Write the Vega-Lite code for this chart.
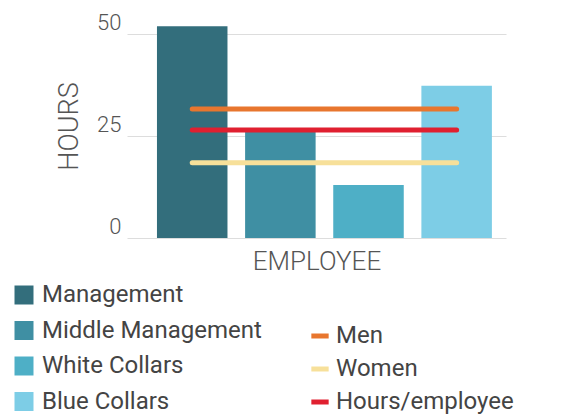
{
  "$schema": "https://vega.github.io/schema/vega-lite/v6.json",
  "width": 379,
  "height": 224,
  "autosize": {"type": "none"},
  "padding": {"left": 127, "top": 14, "right": 72, "bottom": 176},
  "background": "white",
  "config": {
    "view": {"stroke": null},
    "font": "Roboto",
    "legend": {"padding": 0}
  },
  "datasets": {
    "bars": [
      {"category": "Management", "hours": 52.0},
      {"category": "Middle Management", "hours": 26.0},
      {"category": "White Collars", "hours": 13.0},
      {"category": "Blue Collars", "hours": 37.4}
    ],
    "lines": [
      {"category": "Management", "series": "Men", "hours": 31.7},
      {"category": "Middle Management", "series": "Men", "hours": 31.7},
      {"category": "White Collars", "series": "Men", "hours": 31.7},
      {"category": "Blue Collars", "series": "Men", "hours": 31.7},
      {"category": "Management", "series": "Women", "hours": 18.5},
      {"category": "Middle Management", "series": "Women", "hours": 18.5},
      {"category": "White Collars", "series": "Women", "hours": 18.5},
      {"category": "Blue Collars", "series": "Women", "hours": 18.5},
      {"category": "Management", "series": "Hours/employee", "hours": 26.5},
      {"category": "Middle Management", "series": "Hours/employee", "hours": 26.5},
      {"category": "White Collars", "series": "Hours/employee", "hours": 26.5},
      {"category": "Blue Collars", "series": "Hours/employee", "hours": 26.5}
    ]
  },
  "encoding": {
    "x": {
      "field": "category",
      "type": "nominal",
      "sort": ["Management", "Middle Management", "White Collars", "Blue Collars"],
      "scale": {"paddingInner": 0.2, "paddingOuter": 0.25, "align": 0.68},
      "axis": {
        "title": "EMPLOYEE",
        "labels": false,
        "ticks": false,
        "domain": false,
        "titleFont": "Roboto",
        "titleFontWeight": 300,
        "titleFontSize": 26,
        "titleColor": "#555555",
        "titlePadding": 10
      }
    },
    "y": {
      "field": "hours",
      "type": "quantitative",
      "scale": {"domain": [0, 55], "nice": false},
      "axis": {
        "title": "HOURS",
        "values": [0, 25, 50],
        "ticks": false,
        "domain": false,
        "grid": true,
        "gridColor": "#dddddd",
        "labelFont": "Roboto",
        "labelFontWeight": 300,
        "labelFontSize": 22,
        "labelColor": "#555555",
        "labelPadding": 6,
        "labelBaseline": "bottom",
        "titleFont": "Roboto",
        "titleFontWeight": 300,
        "titleFontSize": 27,
        "titleColor": "#555555",
        "titlePadding": 13
      }
    }
  },
  "layer": [
    {
      "data": {"name": "bars"},
      "mark": {"type": "bar"},
      "encoding": {
        "fill": {
          "field": "category",
          "type": "nominal",
          "sort": ["Management", "Middle Management", "White Collars", "Blue Collars"],
          "scale": {
            "domain": ["Management", "Middle Management", "White Collars", "Blue Collars"],
            "range": ["#336e7c", "#3f8fa3", "#4eafc6", "#7dcde6"]
          },
          "legend": {
            "title": null,
            "orient": "none",
            "legendX": -115,
            "legendY": 269,
            "symbolType": "square",
            "symbolSize": 361,
            "symbolStrokeWidth": 0,
            "labelFont": "Roboto",
            "labelFontSize": 24,
            "labelColor": "#444444",
            "labelOffset": 6,
            "rowPadding": 11.5,
            "labelLimit": 400
          }
        }
      }
    },
    {
      "data": {"name": "lines"},
      "mark": {"type": "line", "strokeWidth": 5, "strokeCap": "round"},
      "encoding": {
        "stroke": {
          "field": "series",
          "type": "nominal",
          "scale": {
            "domain": ["Men", "Women", "Hours/employee"],
            "range": ["#e8762e", "#f7e09a", "#e02030"]
          },
          "legend": {
            "title": null,
            "orient": "none",
            "legendX": 181,
            "legendY": 310,
            "symbolType": "stroke",
            "symbolSize": 300,
            "symbolStrokeWidth": 5,
            "labelFont": "Roboto",
            "labelFontSize": 24,
            "labelColor": "#444444",
            "labelOffset": 4,
            "rowPadding": 9,
            "labelLimit": 400
          }
        }
      }
    }
  ]
}
